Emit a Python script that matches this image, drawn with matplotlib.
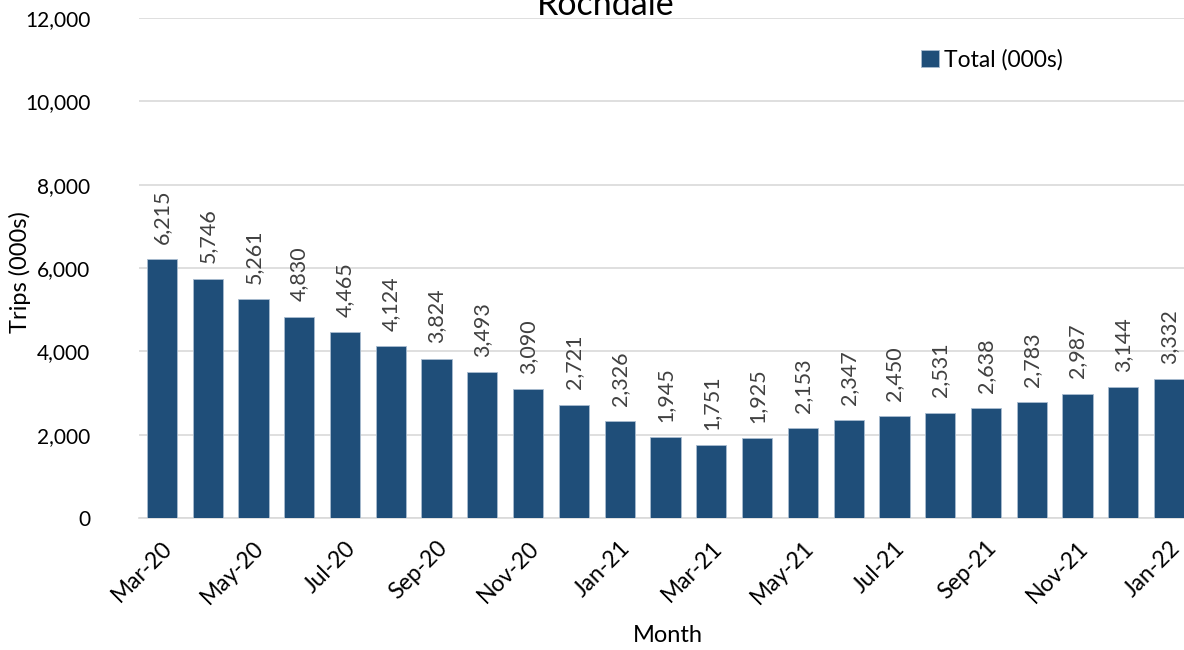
import matplotlib
matplotlib.use("Agg")
import matplotlib.pyplot as plt
from matplotlib.ticker import FuncFormatter, MultipleLocator

months = ["Mar-20", "Apr-20", "May-20", "Jun-20", "Jul-20", "Aug-20", "Sep-20", "Oct-20",
          "Nov-20", "Dec-20", "Jan-21", "Feb-21", "Mar-21", "Apr-21", "May-21", "Jun-21",
          "Jul-21", "Aug-21", "Sep-21", "Oct-21", "Nov-21", "Dec-21", "Jan-22"]
totals = [6215, 5746, 5261, 4830, 4465, 4124, 3824, 3493, 3090, 2721, 2326, 1945,
          1751, 1925, 2153, 2347, 2450, 2531, 2638, 2783, 2987, 3144, 3332]
series_name = "Total (000s)"
title = "Rochdale"

plt.rcParams['font.family'] = ['Lato', 'DejaVu Sans']

W, H = 1184, 650
fig = plt.figure(figsize=(W / 100, H / 100), dpi=100)
ax = fig.add_axes([139 / W, 1 - 518 / H, (1192 - 139) / W, (518 - 18) / H])

bar_color = "#1F4E79"
x = list(range(len(months)))
bars = ax.bar(x, totals, width=0.66, color=bar_color, edgecolor="#A9BCD0",
              linewidth=0.6, zorder=3, label=series_name)

for xi, v in zip(x, totals):
    ax.annotate(f"{v:,}", (xi, v), xytext=(0, 11), textcoords="offset points",
                rotation=90, ha="center", va="bottom", fontsize=15.5, color="#404040")

ax.set_xlim(-0.5, len(months) - 0.5)
ax.set_ylim(0, 12000)
ax.yaxis.set_major_locator(MultipleLocator(2000))
ax.yaxis.set_major_formatter(FuncFormatter(lambda v, p: f"{int(v):,}"))
ax.grid(axis="y", color="#D9D9D9", linewidth=1.2, zorder=0)
ax.set_axisbelow(True)

ax.set_xticks(x[::2])
ax.set_xticklabels(months[::2], rotation=45, ha="right", rotation_mode="anchor",
                   fontsize=16.5)
ax.tick_params(axis="x", length=0, pad=14)
ax.tick_params(axis="y", length=0, pad=35, labelsize=15)

for s in ["top", "right", "left"]:
    ax.spines[s].set_visible(False)
ax.spines["bottom"].set_color("#D9D9D9")
ax.spines["bottom"].set_linewidth(1.2)

fig.text(20 / W, 1 - 272 / H, "Trips (000s)", rotation=90, ha="center", va="center",
         fontsize=17)
fig.text(668 / W, 1 - 636 / H, "Month", ha="center", va="center", fontsize=17)
fig.text(606 / W, 1 - 15 / H, title, ha="center", va="baseline", fontsize=24.5)

fig.legend(handles=[bars], labels=[series_name], loc="center left",
           bbox_to_anchor=(910 / W, 1 - 60 / H), frameon=False, fontsize=16.5,
           handlelength=0.75, handleheight=0.75, handletextpad=0.25, borderpad=0)

fig.savefig("out.png", dpi=100)
